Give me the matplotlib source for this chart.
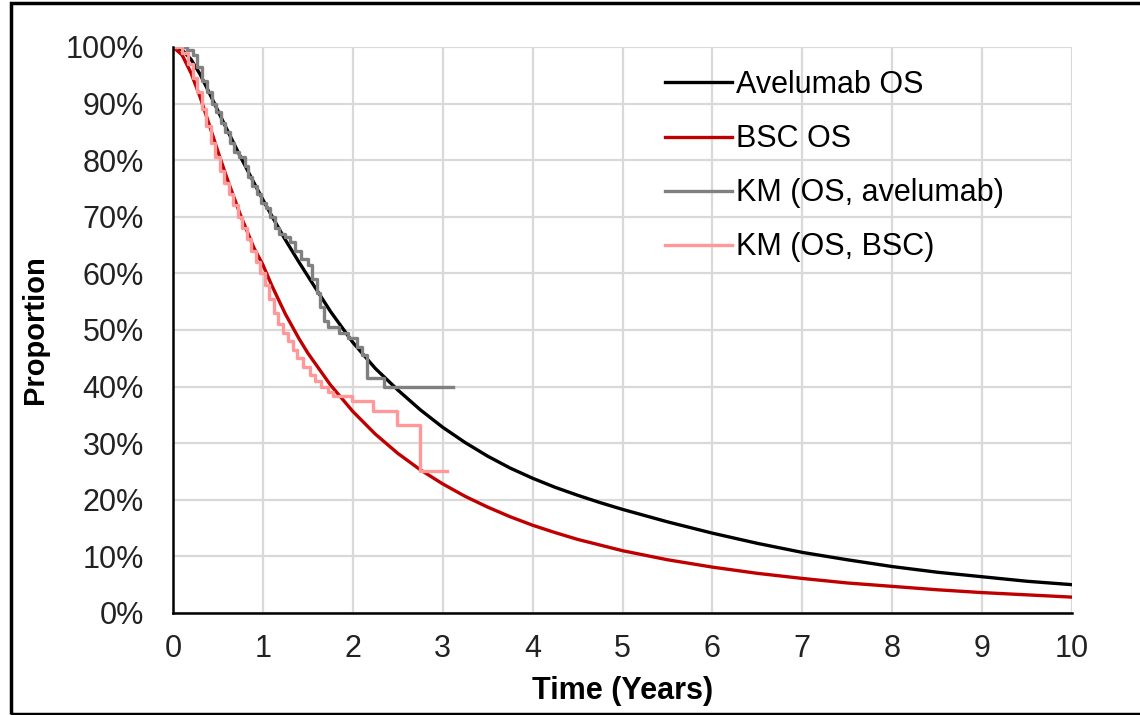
import matplotlib
matplotlib.use("Agg")
import matplotlib.pyplot as plt
from matplotlib.patches import Rectangle
from matplotlib.ticker import PercentFormatter

plt.rcParams['font.family'] = ['Liberation Sans', 'DejaVu Sans']

# Modelled OS curves
t_model = [0, 0.1, 0.2, 0.3, 0.4, 0.5, 0.6, 0.75, 0.9, 1.0, 1.1, 1.25, 1.4, 1.5,
           1.75, 2.0, 2.25, 2.5, 2.75, 3.0, 3.25, 3.5, 3.75, 4.0, 4.25, 4.5,
           4.75, 5.0, 5.5, 6.0, 6.5, 7.0, 7.5, 8.0, 8.5, 9.0, 9.5, 10.0]
avelumab_os = [100, 99.5, 97.8, 95.2, 92, 88.7, 85.4, 80.6, 76, 73, 70.1, 65.9,
               62, 59.5, 53.3, 47.8, 43.2, 39.4, 35.9, 32.8, 30.1, 27.7, 25.6,
               23.8, 22.2, 20.8, 19.5, 18.3, 16.1, 14.1, 12.3, 10.7, 9.4, 8.2,
               7.2, 6.4, 5.6, 5.0]
bsc_os = [100, 98.6, 95.4, 91.2, 86.4, 81.5, 76.8, 70.3, 64.5, 61.5, 57.8, 52.8,
          48.5, 45.9, 40.3, 35.6, 31.6, 28.2, 25.3, 22.8, 20.6, 18.7, 17,
          15.5, 14.2, 13, 12, 11, 9.4, 8.1, 7, 6.1, 5.3, 4.7, 4.1, 3.6, 3.2, 2.8]

# Kaplan-Meier step data
km_ave_t = [0, 0.15, 0.22, 0.27, 0.32, 0.38, 0.43, 0.48, 0.53, 0.58, 0.63, 0.68,
            0.73, 0.8, 0.83, 0.88, 0.93, 0.98, 1.03, 1.08, 1.13, 1.18, 1.25, 1.3,
            1.36, 1.42, 1.5, 1.55, 1.6, 1.64, 1.68, 1.72, 1.85, 1.95, 2.05, 2.1,
            2.16, 2.35, 3.11]
km_ave_s = [100, 99.5, 98.5, 96.5, 94, 92, 90, 88.5, 86.5, 85, 83, 81.5,
            80.5, 79, 77, 75.5, 74, 72.5, 71.5, 70, 68, 67, 66.5, 65.5,
            64, 62.5, 61.5, 59, 56.5, 54, 51.5, 50.5, 49.5, 48.5, 47, 45.5,
            41.6, 40, 40]
km_bsc_t = [0, 0.1, 0.17, 0.22, 0.27, 0.32, 0.37, 0.42, 0.47, 0.52, 0.57, 0.62,
            0.67, 0.72, 0.77, 0.82, 0.87, 0.92, 0.97, 1.02, 1.07, 1.12, 1.17,
            1.22, 1.28, 1.33, 1.38, 1.45, 1.52, 1.58, 1.65, 1.72, 1.78, 1.99,
            2.22, 2.49, 2.75, 3.05]
km_bsc_s = [100, 99, 97, 94.5, 92, 89, 86, 83, 80.5, 78, 76, 74,
            72, 70, 68, 66, 64, 62, 60, 58, 55.5, 53, 51,
            49.5, 48, 46.5, 45, 43.5, 42, 41, 40, 39, 38.3, 37.5,
            35.6, 33.2, 25, 25]

fig = plt.figure(figsize=(11.4, 7.15), dpi=100)
ax = fig.add_axes([0.1518, 0.1427, 0.7886, 0.7916])

ax.plot(t_model, avelumab_os, color='black', lw=2.4, label='Avelumab OS')
ax.plot(t_model, bsc_os, color='#C00000', lw=2.4, label='BSC OS')
ax.plot(km_ave_t, km_ave_s, color='#808080', lw=2.4, drawstyle='steps-post',
        label='KM (OS, avelumab)')
ax.plot(km_bsc_t, km_bsc_s, color='#FF9999', lw=2.4, drawstyle='steps-post',
        label='KM (OS, BSC)')

ax.set_xlim(0, 10)
ax.set_ylim(0, 100)
ax.set_xticks(range(0, 11))
ax.set_yticks(range(0, 101, 10))
ax.yaxis.set_major_formatter(PercentFormatter(decimals=0))
ax.grid(True, color='#D9D9D9', lw=1.6)
ax.set_axisbelow(True)
for s in ['top', 'right']:
    ax.spines[s].set_visible(False)
for s in ['left', 'bottom']:
    ax.spines[s].set_linewidth(1.8)
ax.tick_params(axis='both', length=0, labelsize=22, colors='#222222')
ax.tick_params(axis='y', pad=21)
ax.tick_params(axis='x', pad=15)
ax.set_xlabel('Time (Years)', fontsize=22, fontweight='bold', labelpad=9)
ax.set_ylabel('Proportion', fontsize=21, fontweight='bold', labelpad=12)

ax.legend(loc='upper left', bbox_to_anchor=(0.583, 0.902),
          bbox_transform=fig.transFigure, frameon=False, fontsize=22,
          handlelength=2.19, handletextpad=0.16, labelspacing=0.79,
          borderpad=0, borderaxespad=0)

fig.add_artist(Rectangle((0.0096, 0.0014), 1.1, 0.9944, transform=fig.transFigure,
                         fill=False, lw=2.5, edgecolor='black'))

fig.savefig('out.png', dpi=100)
